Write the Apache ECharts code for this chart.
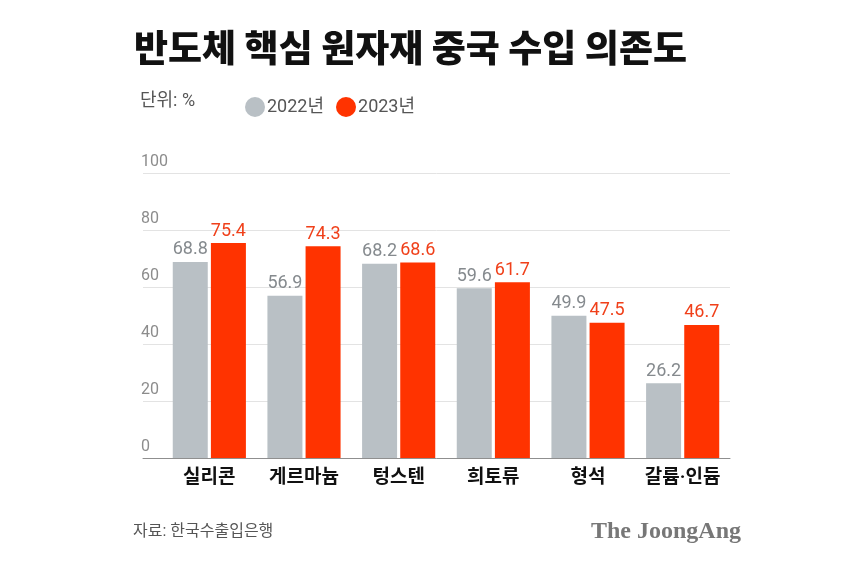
<!DOCTYPE html>
<html>
<head>
<meta charset="utf-8">
<script src="https://cdn.jsdelivr.net/npm/echarts@6/dist/echarts.min.js"></script>
<style>html,body{margin:0;padding:0;background:#fff;}#c{width:850px;height:580px;}</style>
</head>
<body>
<div id="c"></div>
<script>
const categories = ['실리콘', '게르마늄', '텅스텐', '희토류', '형석', '갈륨·인듐'];
const values2022 = [68.8, 56.9, 68.2, 59.6, 49.9, 26.2];
const values2023 = [75.4, 74.3, 68.6, 61.7, 47.5, 46.7];
const seriesNames = ['2022년', '2023년'];
const yTicks = [0, 20, 40, 60, 80, 100];

const FONT = 'Roboto, "Noto Sans CJK KR", sans-serif';
const KFONT = '"Noto Sans CJK KR", sans-serif';
const GRAY = '#b9c0c5';
const RED = '#ff3300';

const chart = echarts.init(document.getElementById('c'), null, {renderer: 'canvas'});
chart.setOption({
  backgroundColor: '#fff',
  animation: false,
  textStyle: {fontFamily: FONT},
  graphic: [
    {type: 'text', left: 134, top: 29, style: {text: '반도체 핵심 원자재 중국 수입 의존도', fontFamily: KFONT, fontSize: 37, fontWeight: 900, fill: '#111', letterSpacing: -0.8}},
    {type: 'text', left: 140, top: 93, style: {text: '단위: %', fontFamily: FONT, fontSize: 18, fill: '#555'}},
    {type: 'text', left: 133, top: 524, style: {text: '자료: 한국수출입은행', fontFamily: FONT, fontSize: 16, fill: '#555', letterSpacing: -0.6}},
    {type: 'text', right: 109, top: 520, style: {text: 'The JoongAng', fontFamily: '"Liberation Serif", "DejaVu Serif", serif', fontSize: 24, fontWeight: 'bold', fill: '#777', letterSpacing: -0.8}}
  ],
  legend: {
    data: seriesNames,
    left: 240, top: 92,
    icon: 'circle', itemWidth: 20, itemHeight: 20, itemGap: 12,
    textStyle: {fontFamily: FONT, fontSize: 18, color: '#555', padding: [0, 0, 0, -3]}
  },
  grid: [
    {left: 143, right: 120, top: 173, bottom: 122},
    {left: 162, right: 120, top: 173, bottom: 122}
  ],
  xAxis: [
    {gridIndex: 0, type: 'value', min: 0, max: 1, axisLabel: {show: false}, axisTick: {show: false}, splitLine: {show: false}, axisLine: {show: true, lineStyle: {color: '#8f8f8f', width: 1}}},
    {gridIndex: 1, type: 'category', data: categories, axisLine: {show: false}, axisTick: {show: false},
     axisLabel: {interval: 0, fontFamily: FONT, fontSize: 19, fontWeight: 'bold', color: '#111', margin: 11, letterSpacing: -0.5}}
  ],
  yAxis: [
    {gridIndex: 0, type: 'value', min: yTicks[0], max: yTicks[yTicks.length - 1], interval: yTicks[1] - yTicks[0],
     axisLine: {show: false}, axisTick: {show: false},
     axisLabel: {inside: true, margin: -2, verticalAlign: 'bottom', padding: [0, 0, 3, 0], fontSize: 16, color: '#8c8c8c', fontFamily: FONT},
     splitLine: {lineStyle: {color: '#e3e3e3', width: 1}}},
    {gridIndex: 1, type: 'value', min: yTicks[0], max: yTicks[yTicks.length - 1], show: false}
  ],
  series: [
    {name: seriesNames[0], type: 'bar', xAxisIndex: 1, yAxisIndex: 1, data: values2022, barWidth: 35, barGap: '9%',
     itemStyle: {color: GRAY},
     label: {show: true, position: 'top', distance: 3, fontSize: 18, color: '#858a8e', fontFamily: FONT}},
    {name: seriesNames[1], type: 'bar', xAxisIndex: 1, yAxisIndex: 1, data: values2023, barWidth: 35,
     itemStyle: {color: RED},
     label: {show: true, position: 'top', distance: 3, fontSize: 18, color: '#f0401a', fontFamily: FONT}}
  ]
});
</script>
</body>
</html>
